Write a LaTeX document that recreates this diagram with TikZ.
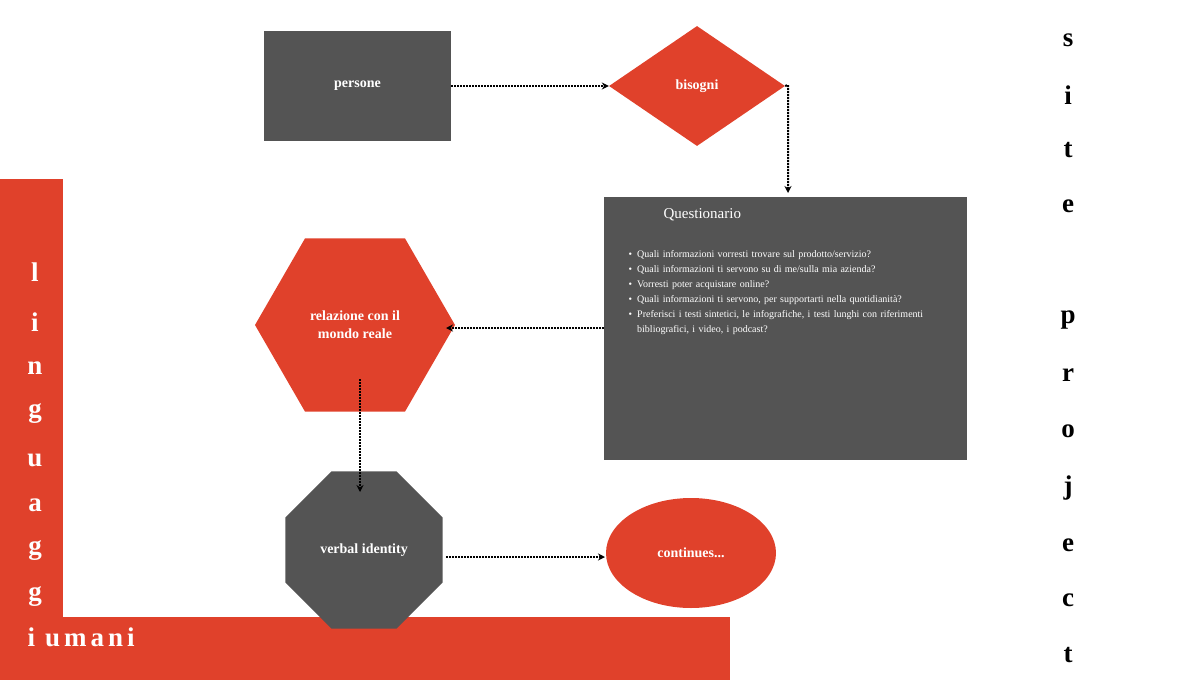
\documentclass[tikz,border=0pt]{standalone}
\usepackage{fontspec}
\setmainfont{Liberation Serif}
\usetikzlibrary{shapes.geometric,arrows.meta}
\definecolor{rd}{HTML}{E0412B}
\definecolor{gr}{HTML}{545454}
\begin{document}
\begin{tikzpicture}[x=1pt,y=-1pt,
 box/.style={fill=gr,draw=none,text=white,font=\bfseries\fontsize{14}{16}\selectfont,align=center},
 con/.style={densely dotted,line width=2pt,-{Stealth[length=7pt,width=7pt]}},
 big/.style={font=\bfseries\fontsize{27}{27}\selectfont}]
\useasboundingbox (0,0) rectangle (1200,680);
\fill[rd] (0,179) rectangle (63,680);
\fill[rd] (0,617) rectangle (730,680);
\foreach \c/\y in {l/272,i/322,n/368,g/414,u/460,a/505,g/551,g/597}
  \node[big,text=white] at (35,\y) {\c};
\node[big,text=white,anchor=west] (um) at (24,637) {i\hspace{10pt}u\hspace{4pt}m\hspace{4pt}a\hspace{4pt}n\hspace{4pt}i};
\foreach \c/\y in {s/40,i/95,t/150,e/206,p/320,r/375,o/431,j/488,e/545,c/600,t/655}
  \node[big,text=black] at (1068,\y) {\c};
\node[box,minimum width=187pt,minimum height=110pt] (pers) at (357.5,86) {persone};
\node[box,fill=rd,diamond,aspect=1.47,minimum width=176pt,minimum height=120pt,inner sep=0pt] (bis) at (697,86) {bisogni};
\node[box,minimum width=363pt,minimum height=263pt,anchor=north west] (q) at (604,197) {};
\node[anchor=north west,text=white,font=\fontsize{15}{17}\selectfont] at (660,205) {Questionario};
\node[anchor=north west,text=white,text width=320pt,font=\fontsize{10}{15}\selectfont,inner sep=0pt] at (612,234) {%
\begin{itemize}\setlength{\itemsep}{0pt}\setlength{\parskip}{0pt}\setlength{\leftmargin}{20pt}
\item Quali informazioni vorresti trovare sul prodotto/servizio?
\item Quali informazioni ti servono su di me/sulla mia azienda?
\item Vorresti poter acquistare online?
\item Quali informazioni ti servono, per supportarti nella quotidianità?
\item Preferisci i testi sintetici, le infografiche, i testi lunghi con riferimenti bibliografici, i video, i podcast?
\end{itemize}};
\node[box,fill=rd,regular polygon,regular polygon sides=6,minimum size=200pt,xscale=1,inner sep=0pt,font=\bfseries\fontsize{14}{18}\selectfont] (rel) at (355,325) {relazione con il\\mondo reale};
\node[box,regular polygon,regular polygon sides=8,minimum size=170pt,inner sep=0pt] (vi) at (364,550) {verbal identity};
\node[box,fill=rd,ellipse,minimum width=170pt,minimum height=110pt] (co) at (691,553) {continues...};
\coordinate (t1) at (788,85);
\draw[con] (pers.east) -- (bis.west);
\draw[con] (bis.east) -- (t1) -- (788,193);
\draw[con] (604,328) -- (446,328);
\draw[con] (360,379) -- (360,492);
\draw[con] (446,557) -- (605,557);
\end{tikzpicture}
\end{document}
